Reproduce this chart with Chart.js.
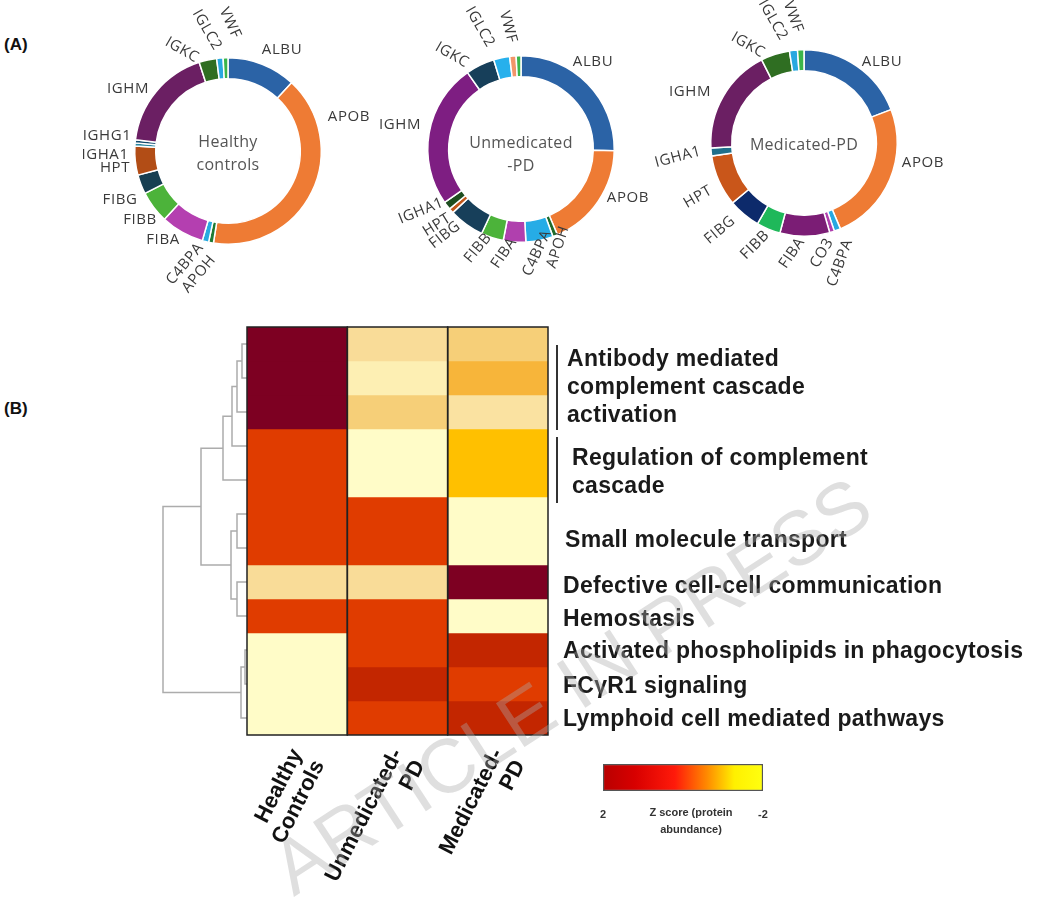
<!DOCTYPE html>
<html>
<head>
<meta charset="utf-8">
<script src="https://cdn.jsdelivr.net/npm/chart.js@4.4.1/dist/chart.umd.min.js"></script>
<style>
    body { margin: 0; background: #fff; width: 1054px; height: 903px; position: relative; overflow: hidden; font-family: "Liberation Sans", Arial, sans-serif; }
    canvas { position: absolute; left: 0; top: 0; }
    .panel { position: absolute; font-weight: bold; font-size: 17px; color: #111; }
    .path { position: absolute; font-weight: bold; font-size: 23px; letter-spacing: 0.3px; color: #1a1a1a; white-space: nowrap; line-height: 28px; }
    .bar { position: absolute; width: 2px; background: #333; }
    #wm { z-index: 5; pointer-events: none; }
</style>
</head>
<body>
<div class="panel" style="left:4px;top:35px">(A)</div>
<div class="panel" style="left:4px;top:399px">(B)</div>

<canvas id="donut1" width="1054" height="903"></canvas>
<canvas id="donut2" width="1054" height="903"></canvas>
<canvas id="donut3" width="1054" height="903"></canvas>
<canvas id="dendro" width="1054" height="903"></canvas>
<canvas id="heat" width="1054" height="903"></canvas>
<canvas id="scale" width="1054" height="903"></canvas>

<div id="pathLabels"></div>
<canvas id="wm" width="1054" height="903"></canvas>

<script>
// ---------- Panel A data (share of each protein) ----------
const donutLabels1 = ['ALBU', 'APOB', 'APOH', 'C4BPA', 'FIBA', 'FIBB', 'FIBG', 'HPT', 'IGHA1', 'IGHG1', 'IGHM', 'IGKC', 'IGLC2', 'VWF'];
const donutValues1 = [43, 146, 3, 4, 27, 20, 12, 18, 2, 2, 65, 11, 4, 3];

const donutLabels2 = ['ALBU', 'APOB', 'APOH', 'C4BPA', 'FIBA', 'FIBB', 'FIBG', 'HPT', 'IGHA1', 'IGHM', 'IGKC', 'IGLC2', '', 'VWF'];
const donutValues2 = [91, 66, 3, 17, 14, 14, 22, 3, 5, 90, 18, 10, 4, 3];

const donutLabels3 = ['ALBU', 'APOB', 'C4BPA', 'CO3', 'FIBA', 'FIBB', 'FIBG', 'HPT', 'IGHA1', 'IGHM', 'IGKC', 'IGLC2', 'VWF'];
const donutValues3 = [69, 88, 4, 3, 31, 15, 20, 32, 5, 66, 18, 5, 4];

// ---------- Panel B data (z score of protein abundance per pathway row) ----------
const groups = [['Healthy', 'Controls'], ['Unmedicated-', 'PD'], ['Medicated-', 'PD']];
const zHealthy = [2, 2, 2, 1, 1, 1, 1, -1.3, 1, -2, -2, -2];
const zUnmed   = [-1.3, -1.6, -1.0, -2, -2, 1, 1, -1.3, 1, 1, 1.4, 1];
const zMed     = [-1.0, -0.4, -1.4, 0, 0, -2, -2, 2, -2, 1.4, 1, 1.4];

// dendrogram merges: [left, right, height]; leaves are 0..11, new nodes 12..
const dendroMerges = [
    [0, 1, 5], [12, 2, 10], [13, 3, 15], [14, 4, 24],
    [5, 6, 10], [7, 8, 10], [16, 17, 16], [15, 18, 46],
    [9, 10, 2], [20, 11, 6], [19, 21, 84]
];

const pathwayGroups = [
    { text: ['Antibody mediated', 'complement cascade', 'activation'], rows: [0, 2], bar: true, indent: 10, dy: 9 },
    { text: ['Regulation of complement', 'cascade'], rows: [3, 4], bar: true, indent: 15, dy: 9 },
    { text: ['Small molecule transport'], rows: [5, 6], indent: 8, dy: 9 },
    { text: ['Defective cell-cell communication'], rows: [7, 7], indent: 6, dy: 4 },
    { text: ['Hemostasis'], rows: [8, 8], indent: 6, dy: 3 },
    { text: ['Activated phospholipids in phagocytosis'], rows: [9, 9], indent: 6, dy: 1 },
    { text: ['FCγR1 signaling'], rows: [10, 10], indent: 6, dy: 2 },
    { text: ['Lymphoid cell mediated pathways'], rows: [11, 11], indent: 6, dy: 1 }
];

const scaleTicks = [2, -2];

// ---------- styles ----------
const donutColors1 = ['#2b63a6', '#ee7b34', '#1e7a34', '#27a9e1', '#b43fb0', '#4cb33a', '#173f52', '#b24d16', '#2a86a0', '#124a6e', '#6b1f63', '#2f6e22', '#29a8e0', '#3bb54a'];
const donutColors2 = ['#2b63a6', '#ee7b34', '#1e6b2a', '#26ace6', '#b040ae', '#4cb33a', '#173f5a', '#c0561a', '#1d4d1f', '#7e1e82', '#173f5a', '#27b0ec', '#f2956a', '#3bb54a'];
const donutColors3 = ['#2b63a6', '#ee7b34', '#27a9e1', '#b040ae', '#7b1d75', '#1fb85a', '#0d2a6b', '#c9561a', '#1f6f8b', '#6b1f63', '#2f6e22', '#29a8e0', '#3bb54a'];

// label offsets from ring centre: [dx, dy, rotation deg]
const donutLabelPos1 = [[54, -101, 0], [121, -34, 0], [-29, 123, -50], [-43, 113, -50], [-65, 89, 0], [-88, 69, 0], [-108, 49, 0], [-113, 17, 0], [-123, 4, 0], [-121, -15, 0], [-100, -62, 0], [-46, -101, 30], [-21, -121, 60], [2, -128, 65]];
const donutLabelPos2 = [[72, -87, 0], [107, 49, 0], [37, 98, -72], [16, 104, -65], [-17, 104, -55], [-43, 99, -50], [-76, 86, -38], [-84, 76, -32], [-100, 62, -22], [-121, -24, 0], [-69, -94, 30], [-41, -122, 60], [0, 0, 0], [-13, -122, 75]];
const donutLabelPos3 = [[78, -81, 0], [119, 20, 0], [36, 120, -70], [18, 110, -60], [-12, 110, -55], [-49, 102, -45], [-84, 87, -40], [-106, 54, -30], [-126, 14, -15], [-114, -51, 0], [-56, -98, 30], [-31, -123, 60], [-11, -126, 70]];

const W = 1054, H = 903, R = 94;

const heatStops = [
    [2.0, '#7d0022'], [1.4, '#c32600'], [1.0, '#e03c00'], [0.0, '#ffc000'],
    [-0.4, '#f7b53a'], [-1.0, '#f6cf78'], [-1.3, '#f9dc98'], [-1.6, '#fdefb3'], [-2.0, '#fffcc8']
];

function hexToRgb(h) {
    return [parseInt(h.slice(1, 3), 16), parseInt(h.slice(3, 5), 16), parseInt(h.slice(5, 7), 16)];
}

function zColor(z) {
    for (let i = 0; i < heatStops.length - 1; i++) {
        const [z0, c0] = heatStops[i];
        const [z1, c1] = heatStops[i + 1];
        if (z <= z0 && z >= z1) {
            const t = (z0 - z) / (z0 - z1);
            const a = hexToRgb(c0), b = hexToRgb(c1);
            const m = a.map((v, k) => Math.round(v + (b[k] - v) * t));
            return `rgb(${m[0]}, ${m[1]}, ${m[2]})`;
        }
    }
    return heatStops[heatStops.length - 1][1];
}

// Ring labels + centre text
const donutText = {
    id: 'donutText',
    afterDraw(chart, args, opts) {
        const arc = chart.getDatasetMeta(0).data[0];
        const ctx = chart.ctx;
        ctx.save();
        ctx.fillStyle = '#3a3a3a';
        ctx.font = '15px "Open Sans"';
        ctx.letterSpacing = '0.6px';
        ctx.textAlign = 'center';
        ctx.textBaseline = 'middle';
        chart.data.labels.forEach((lab, i) => {
            if (!lab) return;
            const [dx, dy, rot] = opts.pos[i];
            ctx.save();
            ctx.translate(arc.x + dx, arc.y + dy);
            ctx.rotate(rot * Math.PI / 180);
            ctx.fillText(lab, 0, 0);
            ctx.restore();
        });
        ctx.fillStyle = '#555';
        ctx.font = '16px "Open Sans"';
        ctx.letterSpacing = '0.3px';
        opts.center.forEach((line, k) => {
            ctx.fillText(line, arc.x + opts.centerDx, arc.y + opts.centerDy + k * 23);
        });
        ctx.restore();
    }
};

function makeDonut(id, cx, cy, labels, values, colors, pos, center, centerDy) {
    new Chart(document.getElementById(id), {
        type: 'doughnut',
        data: {
            labels: labels,
            datasets: [{ data: values, backgroundColor: colors, borderColor: '#fff', borderWidth: 1.5 }]
        },
        options: {
            responsive: false,
            animation: false,
            cutout: '77.5%',
            layout: { padding: { left: cx - R, right: W - cx - R, top: cy - R, bottom: H - cy - R } },
            plugins: {
                legend: { display: false },
                tooltip: { enabled: false },
                donutText: { pos: pos, center: center, centerDx: 0, centerDy: centerDy }
            }
        },
        plugins: [donutText]
    });
}

makeDonut('donut1', 228, 151, donutLabels1, donutValues1, donutColors1, donutLabelPos1, ['Healthy', 'controls'], -9);
makeDonut('donut2', 521, 149, donutLabels2, donutValues2, donutColors2, donutLabelPos2, ['Unmedicated', '-PD'], -6);
makeDonut('donut3', 804, 143, donutLabels3, donutValues3, donutColors3, donutLabelPos3, ['Medicated-PD'], 2);

// ---------- Panel B: heatmap ----------
const HEAT = { left: 247, right: 548, top: 327, bottom: 735 };
const zCols = [zHealthy, zUnmed, zMed];

const heatDatasets = zHealthy.map((_, r) => ({
    data: groups.map(() => 1),
    backgroundColor: zCols.map(col => zColor(col[r])),
    borderWidth: 0,
    barPercentage: 1,
    categoryPercentage: 1
}));

const columnOutline = {
    id: 'columnOutline',
    afterDatasetsDraw(chart) {
        const { ctx, chartArea, scales } = chart;
        const w = scales.x.getPixelForValue(1) - scales.x.getPixelForValue(0);
        ctx.save();
        ctx.strokeStyle = '#222';
        ctx.lineWidth = 1.5;
        groups.forEach((g, i) => {
            const x = scales.x.getPixelForValue(i) - w / 2;
            ctx.strokeRect(x, chartArea.top, w, chartArea.bottom - chartArea.top);
        });
        ctx.restore();
    }
};

new Chart(document.getElementById('heat'), {
    type: 'bar',
    data: { labels: groups, datasets: heatDatasets },
    options: {
        responsive: false,
        animation: false,
        layout: { padding: { left: HEAT.left, right: W - HEAT.right, top: HEAT.top, bottom: 0 } },
        plugins: { legend: { display: false }, tooltip: { enabled: false } },
        scales: {
            x: {
                stacked: true,
                grid: { display: false },
                border: { display: false },
                afterFit: s => { s.height = H - HEAT.bottom; },
                ticks: {
                    color: '#111',
                    font: { family: '"Liberation Sans"', size: 22, weight: 'bold', lineHeight: 1.12 },
                    minRotation: 63,
                    maxRotation: 63,
                    padding: 2
                }
            },
            y: { stacked: true, display: false, min: 0, max: zHealthy.length, reverse: true }
        }
    },
    plugins: [columnOutline]
});

// ---------- dendrogram ----------
const nodeY = zHealthy.map((_, i) => i + 0.5);
const nodeH = zHealthy.map(() => 0);
const dendroDatasets = dendroMerges.map(([a, b, h]) => {
    nodeY.push((nodeY[a] + nodeY[b]) / 2);
    nodeH.push(h);
    return {
        data: [
            { x: nodeH[a], y: nodeY[a] }, { x: h, y: nodeY[a] },
            { x: h, y: nodeY[b] }, { x: nodeH[b], y: nodeY[b] }
        ],
        showLine: true,
        borderColor: '#acacac',
        borderWidth: 1.5,
        pointRadius: 0,
        fill: false
    };
});

new Chart(document.getElementById('dendro'), {
    type: 'scatter',
    data: { datasets: dendroDatasets },
    options: {
        responsive: false,
        animation: false,
        layout: { padding: { left: HEAT.left - 90, right: W - HEAT.left, top: HEAT.top, bottom: H - HEAT.bottom } },
        plugins: { legend: { display: false }, tooltip: { enabled: false } },
        scales: {
            x: { type: 'linear', min: 0, max: 90, reverse: true, display: false },
            y: { type: 'linear', min: 0, max: zHealthy.length, reverse: true, display: false }
        }
    }
});

// ---------- colour scale ----------
const scaleTitle = {
    id: 'scaleTitle',
    afterDraw(chart) {
        const { ctx, chartArea } = chart;
        ctx.save();
        ctx.fillStyle = '#333';
        ctx.font = 'bold 11px "Liberation Sans"';
        ctx.textAlign = 'center';
        ctx.textBaseline = 'middle';
        const cx = (chartArea.left + chartArea.right) / 2 + 8;
        ctx.fillText('Z score (protein', cx, chartArea.bottom + 22);
        ctx.fillText('abundance)', cx, chartArea.bottom + 39);
        ctx.restore();
    }
};

new Chart(document.getElementById('scale'), {
    type: 'bar',
    data: {
        labels: [''],
        datasets: [{
            data: [[scaleTicks[0], scaleTicks[1]]],
            backgroundColor: (c) => {
                const a = c.chart.chartArea;
                if (!a) return '#f00';
                const g = c.chart.ctx.createLinearGradient(a.left, 0, a.right, 0);
                g.addColorStop(0, '#b80000');
                g.addColorStop(0.2, '#d80000');
                g.addColorStop(0.45, '#ff1a0a');
                g.addColorStop(0.65, '#ff8a00');
                g.addColorStop(0.82, '#fff000');
                g.addColorStop(1, '#ffff10');
                return g;
            },
            borderColor: '#555',
            borderWidth: 1.5,
            borderSkipped: false,
            barPercentage: 1,
            categoryPercentage: 1
        }]
    },
    options: {
        indexAxis: 'y',
        responsive: false,
        animation: false,
        layout: { padding: { left: 603, right: W - 763, top: 764, bottom: 0 } },
        plugins: { legend: { display: false }, tooltip: { enabled: false } },
        scales: {
            x: {
                min: -2, max: 2, reverse: true,
                grid: { display: false },
                border: { display: false },
                afterFit: s => { s.height = H - 791; },
                afterBuildTicks: s => { s.ticks = scaleTicks.map(v => ({ value: v })); },
                ticks: { color: '#333', font: { family: '"Liberation Sans"', size: 11, weight: 'bold' }, padding: 9 }
            },
            y: { display: false }
        }
    },
    plugins: [scaleTitle]
});

// ---------- pathway labels ----------
const rowH = (HEAT.bottom - HEAT.top) / zHealthy.length;
const labelBox = document.getElementById('pathLabels');
pathwayGroups.forEach(g => {
    const mid = HEAT.top + rowH * ((g.rows[0] + g.rows[1] + 1) / 2);
    const div = document.createElement('div');
    div.className = 'path';
    div.innerHTML = g.text.join('<br>');
    div.style.left = (557 + g.indent) + 'px';
    div.style.top = (mid - g.text.length * 14 - 1 + g.dy) + 'px';
    labelBox.appendChild(div);
    if (g.bar) {
        const bar = document.createElement('div');
        bar.className = 'bar';
        bar.style.left = '556px';
        bar.style.top = (HEAT.top + rowH * g.rows[0] + (g.rows[0] === 0 ? 18 : 8)) + 'px';
        bar.style.height = (rowH * (g.rows[1] - g.rows[0] + 1) - (g.rows[0] === 0 ? 17 : 2)) + 'px';
        labelBox.appendChild(bar);
    }
});

// ---------- watermark ----------
const wm = document.getElementById('wm').getContext('2d');
wm.save();
wm.translate(574, 690);
wm.rotate(-33 * Math.PI / 180);
wm.font = '76px "Liberation Sans"';
wm.textAlign = 'center';
wm.textBaseline = 'middle';
wm.fillStyle = 'rgba(170, 170, 170, 0.38)';
wm.fillText('ARTICLE IN PRESS', 0, 0);
wm.restore();
</script>
</body>
</html>
